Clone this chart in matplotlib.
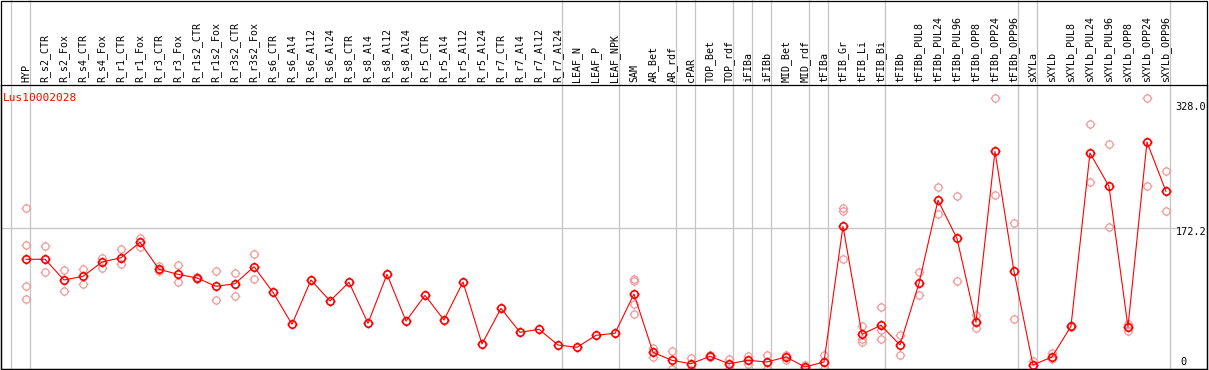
# grafico de expresion Lus10002028
import matplotlib
matplotlib.use("Agg")
import matplotlib.pyplot as plt
from matplotlib.path import Path
from matplotlib.patches import Rectangle

# Datos
gen = "Lus10002028"
muestras = ["HYP", "R_s2_CTR", "R_s2_Fox", "R_s4_CTR", "R_s4_Fox", "R_r1_CTR", "R_r1_Fox",
            "R_r3_CTR", "R_r3_Fox", "R_r1s2_CTR", "R_r1s2_Fox", "R_r3s2_CTR", "R_r3s2_Fox",
            "R_s6_CTR", "R_s6_Al4", "R_s6_Al12", "R_s6_Al24", "R_s8_CTR", "R_s8_Al4",
            "R_s8_Al12", "R_s8_Al24", "R_r5_CTR", "R_r5_Al4", "R_r5_Al12", "R_r5_Al24",
            "R_r7_CTR", "R_r7_Al4", "R_r7_Al12", "R_r7_Al24", "LEAF_N", "LEAF_P", "LEAF_NPK",
            "SAM", "AR_Bet", "AR_rdf", "cPAR", "TOP_Bet", "TOP_rdf", "iFIBa", "iFIBb",
            "MID_Bet", "MID_rdf", "tFIBa", "tFIB_Gr", "tFIB_Li", "tFIB_Bi", "tFIBb",
            "tFIBb_PUL8", "tFIBb_PUL24", "tFIBb_PUL96", "tFIBb_OPP8", "tFIBb_OPP24", "tFIBb_OPP96",
            "sXYLa", "sXYLb", "sXYLb_PUL8", "sXYLb_PUL24", "sXYLb_PUL96", "sXYLb_OPP8",
            "sXYLb_OPP24", "sXYLb_OPP96"]

medias = [135.1, 135.1, 110.3, 114.7, 131.8, 137.0, 155.4, 123.1, 117.1, 112.7, 102.7, 105.8, 126.2,
          95.5, 57.2, 110.3, 85.1, 107.5, 58.4, 117.1, 61.1, 91.9, 62.3, 107.9, 33.6,
          76.3, 47.6, 51.2, 32.4, 29.6, 44.0, 46.4,
          93.5, 23.6, 14.0, 9.9, 18.8, 9.9, 14.0, 12.0, 18.0, 6.0, 12.0,
          174.6, 45.2, 56.0, 32.4, 106.3, 205.8, 160.2, 59.6, 264.5, 120.7,
          8.4, 18.0, 54.8, 262.5, 222.6, 53.9, 275.6, 216.6]

replicas = [[196.2, 151.8, 102.7, 87.1], [150.6, 119.5], [121.9, 96.7], [123.4, 105.1],
            [137.0, 124.6], [147.1, 129.1], [161.0, 150.2], [127.0, 121.0], [128.2, 107.5],
            [114.2, 111.1], [120.7, 85.9], [119.0, 91.4], [141.1, 111.1],
            [], [], [], [], [], [], [], [], [], [], [], [], [], [], [], [], [], [], [],
            [111.8, 109.4, 81.5, 69.9], [29.1, 18.0], [24.8, 3.6], [16.8, 3.0], [20.4, 17.4],
            [15.9, 4.0], [19.5, 9.2], [20.4, 3.6], [20.7, 14.4], [8.0, 4.0], [20.7, 3.6],
            [196.2, 193.0, 135.1], [55.1, 39.2, 36.0], [77.5, 50.0, 39.2], [44.3, 20.0],
            [119.5, 92.3], [221.4, 189.0], [210.6, 108.7], [68.3, 52.4], [328.0, 211.8],
            [178.2, 63.5], [13.2], [22.4, 15.2], [55.5, 53.9], [296.9, 227.4], [272.9, 174.0],
            [57.9, 49.5], [328.0, 222.6], [240.5, 193.0]]

# lineas grises que separan grupos de muestras
separadores = [-0.8, 0.2, 28.2, 31.2, 34.2, 35.2, 37.2, 38.2, 39.2, 41.2, 42.2, 45.2, 52.2, 53.2, 60.2]

# marcador: circulo con cuatro rayitas
circulo = Path.unit_circle()
rayas = Path([(0, 1), (0, 1.35), (0, -1), (0, -1.35), (1, 0), (1.35, 0), (-1, 0), (-1.35, 0)],
             [Path.MOVETO, Path.LINETO] * 4)
marcador = Path.make_compound_path(circulo, rayas)

fig = plt.figure(figsize=(12.09, 3.70), dpi=100)
ax = fig.add_axes([1 / 1209, 1 / 370, 1206 / 1209, 284 / 370])

x = list(range(len(muestras)))

# replicas en rosa claro
for i, reps in enumerate(replicas):
    if reps:
        ax.plot([i] * len(reps), reps, linestyle="none", marker=marcador, markersize=7,
                markerfacecolor="none", markeredgecolor="#f09a9a", markeredgewidth=0.9, zorder=2)

# media en rojo
ax.plot(x, medias, color="#ff0000", linewidth=0.8, marker=marcador, markersize=7.2,
        markerfacecolor="none", markeredgecolor="#ff0000", markeredgewidth=1.2, zorder=3)

ax.set_xlim(-1.316, 62.16)
ax.set_ylim(3.6, 344.0)

# linea horizontal gris
ax.hlines(172.2, -1.316, 60.63, color="#c4c4c4", linewidth=0.9, zorder=1)

for s in separadores:
    ax.axvline(s, ymin=0, ymax=1.3, color="#c4c4c4", linewidth=0.9, clip_on=False, zorder=1)

# etiquetas arriba
ax.xaxis.tick_top()
ax.set_xticks(x)
ax.set_xticklabels(muestras, rotation=90, fontfamily="DejaVu Sans Mono", fontsize=7.2)
ax.tick_params(axis="x", length=0, pad=2)
ax.set_yticks([])

for sp in ax.spines.values():
    sp.set_color("black")
    sp.set_linewidth(0.9)

# valores de escala a la derecha
ax.annotate("328.0", (60.5, 328.0), xytext=(0, -6), textcoords="offset points",
            va="center", ha="left", fontfamily="DejaVu Sans Mono", fontsize=7.4)
ax.annotate("172.2", (60.5, 172.2), xytext=(0, -2.7), textcoords="offset points",
            va="center", ha="left", fontfamily="DejaVu Sans Mono", fontsize=7.4)
ax.annotate("0", (60.75, 3.6), xytext=(0, 5), textcoords="offset points",
            va="center", ha="left", fontfamily="DejaVu Sans Mono", fontsize=7.4)

# titulo
fig.text(3 / 1209, 1 - 98 / 370, gen, color="#ff0000", va="center", ha="left",
         fontfamily="DejaVu Sans Mono", fontsize=8)

# marco de la figura
fig.patches.append(Rectangle((1 / 1209, 1 / 370), 1206 / 1209, 368 / 370, transform=fig.transFigure,
                             fill=False, edgecolor="black", linewidth=0.9))

fig.savefig("out.png", dpi=100)
